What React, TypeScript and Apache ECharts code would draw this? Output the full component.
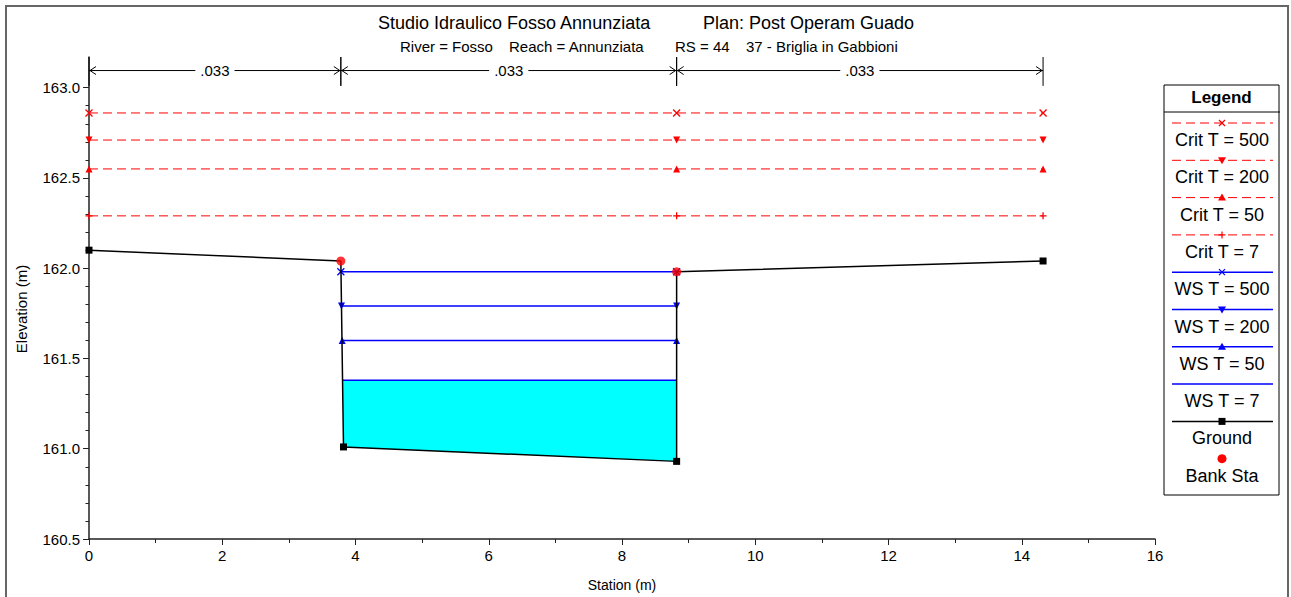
import React, { useEffect, useRef } from "react";
import * as echarts from "echarts";

// ---------------- data ----------------
const titleMain = "Studio Idraulico Fosso Annunziata";
const titlePlan = "Plan: Post Operam Guado";
const subRiver = "River = Fosso";
const subReach = "Reach = Annunziata";
const subRS = "RS = 44";
const subDesc = "37 - Briglia in Gabbioni";

const xMin = 0;
const xMax = 16;
const xStep = 2;
const yMin = 160.5;
const yMax = 163.17;
const yMajorTicks = [160.5, 161.0, 161.5, 162.0, 162.5, 163.0];
const yMinorTicks = [
  160.6, 160.7, 160.8, 160.9, 161.1, 161.2, 161.3, 161.4, 161.6, 161.7, 161.8,
  161.9, 162.1, 162.2, 162.3, 162.4, 162.6, 162.7, 162.8, 162.9,
];

// Ground profile
const groundX = [0, 3.78, 3.82, 8.82, 8.82, 14.32];
const groundY = [162.1, 162.04, 161.01, 160.93, 161.98, 162.04];
const groundHasMarker = [true, false, true, true, false, true];

// Bank stations
const bankX = [3.78, 8.82];
const bankY = [162.04, 161.98];

// Water surfaces
const wsNames = ["WS T = 500", "WS T = 200", "WS T = 50", "WS T = 7"];
const wsLevels = [161.98, 161.79, 161.6, 161.38];
const wsLeftX = [3.78, 3.79, 3.8, 3.81];
const wsRightX = 8.82;

// Critical depths
const critNames = ["Crit T = 500", "Crit T = 200", "Crit T = 50", "Crit T = 7"];
const critLevels = [162.86, 162.71, 162.55, 162.29];
const critStations = [0, 8.82, 14.32];

// Water fill (T = 7)
const waterPoly = [
  [3.81, 161.38],
  [8.82, 161.38],
  [8.82, 160.93],
  [3.82, 161.01],
];

// Manning n annotation
const dimStations = [0, 3.78, 8.82, 14.32];
const dimLabels = [".033", ".033", ".033"];
const dimArrowY = 163.095;
const dimTickTop = 163.17;
const dimTickBottom = 163.01;

// ---------------- styles ----------------
const FONT = '"Liberation Sans", Arial, Helvetica, sans-serif';
const RED = "#ff0000";
const BLUE = "#0000ff";
const BLACK = "#000000";

const X_PATH = "path://M0,0L10,10M10,0L0,10";
const PLUS_PATH = "path://M5,0L5,10M0,5L10,5";

const markerKinds = ["x", "down", "up", "plus"];

function seriesSymbol(kind: string) {
  if (kind === "x") return { symbol: X_PATH, symbolRotate: 0, stroke: true };
  if (kind === "plus") return { symbol: PLUS_PATH, symbolRotate: 0, stroke: true };
  if (kind === "down") return { symbol: "triangle", symbolRotate: 180, stroke: false };
  if (kind === "up") return { symbol: "triangle", symbolRotate: 0, stroke: false };
  return { symbol: "none", symbolRotate: 0, stroke: false };
}

function legendMarker(kind: string, cx: number, cy: number, color: string): any[] {
  const s = { stroke: color, lineWidth: 1.2 };
  if (kind === "x")
    return [
      { type: "line", shape: { x1: cx - 3, y1: cy - 3, x2: cx + 3, y2: cy + 3 }, style: s },
      { type: "line", shape: { x1: cx + 3, y1: cy - 3, x2: cx - 3, y2: cy + 3 }, style: s },
    ];
  if (kind === "plus")
    return [
      { type: "line", shape: { x1: cx, y1: cy - 3.5, x2: cx, y2: cy + 3.5 }, style: s },
      { type: "line", shape: { x1: cx - 3.5, y1: cy, x2: cx + 3.5, y2: cy }, style: s },
    ];
  if (kind === "down")
    return [
      { type: "polygon", shape: { points: [[cx - 4, cy - 3], [cx + 4, cy - 3], [cx, cy + 4]] }, style: { fill: color } },
    ];
  if (kind === "up")
    return [
      { type: "polygon", shape: { points: [[cx - 4, cy + 3], [cx + 4, cy + 3], [cx, cy - 4]] }, style: { fill: color } },
    ];
  if (kind === "square")
    return [{ type: "rect", shape: { x: cx - 3.5, y: cy - 3.5, width: 7, height: 7 }, style: { fill: color } }];
  if (kind === "circle")
    return [{ type: "circle", shape: { cx, cy, r: 4.5 }, style: { fill: color } }];
  return [];
}

export default function App() {
  const ref = useRef<HTMLDivElement>(null);

  useEffect(() => {
    if (!ref.current) return;
    const chart = echarts.init(ref.current, undefined, { renderer: "svg" });

    const critSeries = critNames.map((name, i) => {
      const sym = seriesSymbol(markerKinds[i]);
      return {
        name,
        type: "line",
        z: 3,
        data: critStations.map((x) => [x, critLevels[i]]),
        lineStyle: { color: RED, width: 1, type: [9, 5] },
        symbol: sym.symbol,
        symbolRotate: sym.symbolRotate,
        symbolSize: 7,
        showSymbol: true,
        itemStyle: sym.stroke
          ? { color: "rgba(0,0,0,0)", borderColor: RED, borderWidth: 1.3 }
          : { color: RED, borderWidth: 0 },
        silent: true,
      };
    });

    const wsSeries = wsNames.map((name, i) => {
      const sym = seriesSymbol(i < 3 ? markerKinds[i] : "none");
      return {
        name,
        type: "line",
        z: 4,
        data: [
          [wsLeftX[i], wsLevels[i]],
          [wsRightX, wsLevels[i]],
        ],
        lineStyle: { color: BLUE, width: 1.5 },
        symbol: sym.symbol,
        symbolRotate: sym.symbolRotate,
        symbolSize: 7,
        showSymbol: sym.symbol !== "none",
        itemStyle: sym.stroke
          ? { color: "rgba(0,0,0,0)", borderColor: BLUE, borderWidth: 1.3 }
          : { color: BLUE, borderWidth: 0 },
        silent: true,
      };
    });

    const legendItems = [
      { label: critNames[0], color: RED, line: "dashed", marker: "x" },
      { label: critNames[1], color: RED, line: "dashed", marker: "down" },
      { label: critNames[2], color: RED, line: "dashed", marker: "up" },
      { label: critNames[3], color: RED, line: "dashed", marker: "plus" },
      { label: wsNames[0], color: BLUE, line: "solid", marker: "x" },
      { label: wsNames[1], color: BLUE, line: "solid", marker: "down" },
      { label: wsNames[2], color: BLUE, line: "solid", marker: "up" },
      { label: wsNames[3], color: BLUE, line: "solid", marker: "none" },
      { label: "Ground", color: BLACK, line: "solid", marker: "square" },
      { label: "Bank Sta", color: RED, line: "none", marker: "circle" },
    ];

    const legendChildren: any[] = [
      {
        type: "rect",
        shape: { x: 1164, y: 85, width: 115, height: 410 },
        style: { fill: "#fff", stroke: BLACK, lineWidth: 1 },
      },
      {
        type: "text",
        style: {
          text: "Legend",
          x: 1221.5,
          y: 97,
          align: "center",
          verticalAlign: "middle",
          font: `bold 17px ${FONT}`,
          fill: BLACK,
        },
      },
      { type: "line", shape: { x1: 1164, y1: 112, x2: 1280, y2: 112 }, style: { stroke: BLACK, lineWidth: 1 } },
    ];
    legendItems.forEach((it, i) => {
      const ly = 123 + i * 37.3;
      if (it.line !== "none") {
        legendChildren.push({
          type: "line",
          shape: { x1: 1172, y1: ly, x2: 1273, y2: ly },
          style: {
            stroke: it.color,
            lineWidth: it.line === "dashed" ? 1 : 1.5,
            lineDash: it.line === "dashed" ? [9, 5] : null,
          },
        });
      }
      legendChildren.push(...legendMarker(it.marker, 1222, ly, it.color));
      legendChildren.push({
        type: "text",
        style: {
          text: it.label,
          x: 1222,
          y: ly + 17,
          align: "center",
          verticalAlign: "middle",
          font: `18px ${FONT}`,
          fill: BLACK,
        },
      });
    });

    const option: any = {
      animation: false,
      backgroundColor: "#ffffff",
      grid: { left: 89, right: 136, top: 57, bottom: 50, containLabel: false },
      xAxis: {
        type: "value",
        min: xMin,
        max: xMax,
        interval: xStep,
        name: "Station (m)",
        nameLocation: "middle",
        nameGap: 39,
        nameTextStyle: { fontFamily: FONT, fontSize: 14, color: BLACK },
        axisLine: { show: true, onZero: false, lineStyle: { color: "#222", width: 1.5 } },
        axisTick: { show: true, length: 6, lineStyle: { color: "#222" } },
        minorTick: { show: true, splitNumber: 2, length: 4, lineStyle: { color: "#222" } },
        axisLabel: { fontFamily: FONT, fontSize: 15, color: BLACK, margin: 9 },
        splitLine: { show: false },
        minorSplitLine: { show: false },
      },
      yAxis: [
        {
          type: "value",
          min: yMin,
          max: yMax,
          name: "Elevation (m)",
          nameLocation: "middle",
          nameRotate: 90,
          nameGap: 60,
          nameTextStyle: { fontFamily: FONT, fontSize: 15, color: BLACK, padding: [0, 22, 0, 0] },
          axisLine: { show: true, onZero: false, lineStyle: { color: "#222", width: 1.5 } },
          axisTick: { show: true, length: 6, customValues: yMajorTicks, lineStyle: { color: "#222" } },
          axisLabel: {
            fontFamily: FONT,
            fontSize: 15,
            color: BLACK,
            margin: 9,
            customValues: yMajorTicks,
            formatter: (v: number) => v.toFixed(1),
          },
          splitLine: { show: false },
        },
        {
          type: "value",
          min: yMin,
          max: yMax,
          position: "left",
          axisLine: { show: false },
          axisTick: { show: true, length: 3.5, customValues: yMinorTicks, lineStyle: { color: "#222" } },
          axisLabel: { show: false },
          splitLine: { show: false },
        },
      ],
      graphic: [
        {
          type: "rect",
          silent: true,
          z: -10,
          shape: { x: 6, y: 6, width: 1282, height: 600 },
          style: { fill: "none", stroke: "#666", lineWidth: 2 },
        },
        {
          type: "text",
          style: { text: titleMain, x: 378, y: 23, verticalAlign: "middle", font: `18px ${FONT}`, fill: BLACK },
        },
        {
          type: "text",
          style: { text: titlePlan, x: 703, y: 23, verticalAlign: "middle", font: `18px ${FONT}`, fill: BLACK },
        },
        {
          type: "text",
          style: { text: subRiver, x: 400, y: 46, verticalAlign: "middle", font: `15px ${FONT}`, fill: BLACK },
        },
        {
          type: "text",
          style: { text: subReach, x: 509, y: 46, verticalAlign: "middle", font: `15px ${FONT}`, fill: BLACK },
        },
        {
          type: "text",
          style: { text: subRS, x: 675, y: 46, verticalAlign: "middle", font: `15px ${FONT}`, fill: BLACK },
        },
        {
          type: "text",
          style: { text: subDesc, x: 746, y: 46, verticalAlign: "middle", font: `15px ${FONT}`, fill: BLACK },
        },
        { type: "group", children: legendChildren },
      ],
      series: [
        {
          name: "water",
          type: "custom",
          z: 1,
          silent: true,
          data: [[waterPoly[0][0], waterPoly[0][1]]],
          encode: { x: 0, y: 1 },
          renderItem: (_params: any, api: any) => ({
            type: "polygon",
            shape: { points: waterPoly.map((p) => api.coord(p)) },
            style: { fill: "#00ffff", stroke: "none" },
          }),
        },
        ...critSeries,
        ...wsSeries,
        {
          name: "Ground",
          type: "line",
          z: 5,
          silent: true,
          data: groundX.map((x, i) => ({
            value: [x, groundY[i]],
            symbol: groundHasMarker[i] ? "rect" : "none",
          })),
          symbolSize: 7,
          showSymbol: true,
          lineStyle: { color: BLACK, width: 1.5 },
          itemStyle: { color: BLACK },
        },
        {
          name: "Bank Sta",
          type: "scatter",
          z: 6,
          silent: true,
          data: bankX.map((x, i) => [x, bankY[i]]),
          symbol: "circle",
          symbolSize: 9,
          itemStyle: { color: RED },
        },
        {
          name: "n values",
          type: "custom",
          z: 7,
          silent: true,
          clip: false,
          data: dimLabels.map((_, i) => [dimStations[i], dimStations[i + 1], dimArrowY]),
          encode: { x: [0, 1], y: 2 },
          renderItem: (params: any, api: any) => {
            const x0 = api.value(0);
            const x1 = api.value(1);
            const a = api.coord([x0, dimArrowY]);
            const b = api.coord([x1, dimArrowY]);
            const t0a = api.coord([x0, dimTickTop]);
            const t0b = api.coord([x0, dimTickBottom]);
            const t1a = api.coord([x1, dimTickTop]);
            const t1b = api.coord([x1, dimTickBottom]);
            const st = { stroke: BLACK, lineWidth: 1, fill: "none" };
            return {
              type: "group",
              children: [
                { type: "line", shape: { x1: a[0], y1: a[1], x2: b[0], y2: b[1] }, style: st },
                { type: "line", shape: { x1: t0a[0], y1: t0a[1], x2: t0b[0], y2: t0b[1] }, style: st },
                { type: "line", shape: { x1: t1a[0], y1: t1a[1], x2: t1b[0], y2: t1b[1] }, style: st },
                {
                  type: "polyline",
                  shape: { points: [[a[0] + 7, a[1] - 4], [a[0] + 1, a[1]], [a[0] + 7, a[1] + 4]] },
                  style: st,
                },
                {
                  type: "polyline",
                  shape: { points: [[b[0] - 7, b[1] - 4], [b[0] - 1, b[1]], [b[0] - 7, b[1] + 4]] },
                  style: st,
                },
                {
                  type: "text",
                  style: {
                    text: dimLabels[params.dataIndex],
                    x: (a[0] + b[0]) / 2,
                    y: a[1],
                    align: "center",
                    verticalAlign: "middle",
                    font: `15px ${FONT}`,
                    fill: BLACK,
                    backgroundColor: "#ffffff",
                    padding: [0, 5],
                  },
                },
              ],
            };
          },
        },
      ],
    };

    chart.setOption(option);
    return () => chart.dispose();
  }, []);

  return (
    <div
      ref={ref}
      style={{ position: "absolute", left: 0, top: 0, width: 1291, height: 597, background: "#fff" }}
    />
  );
}
